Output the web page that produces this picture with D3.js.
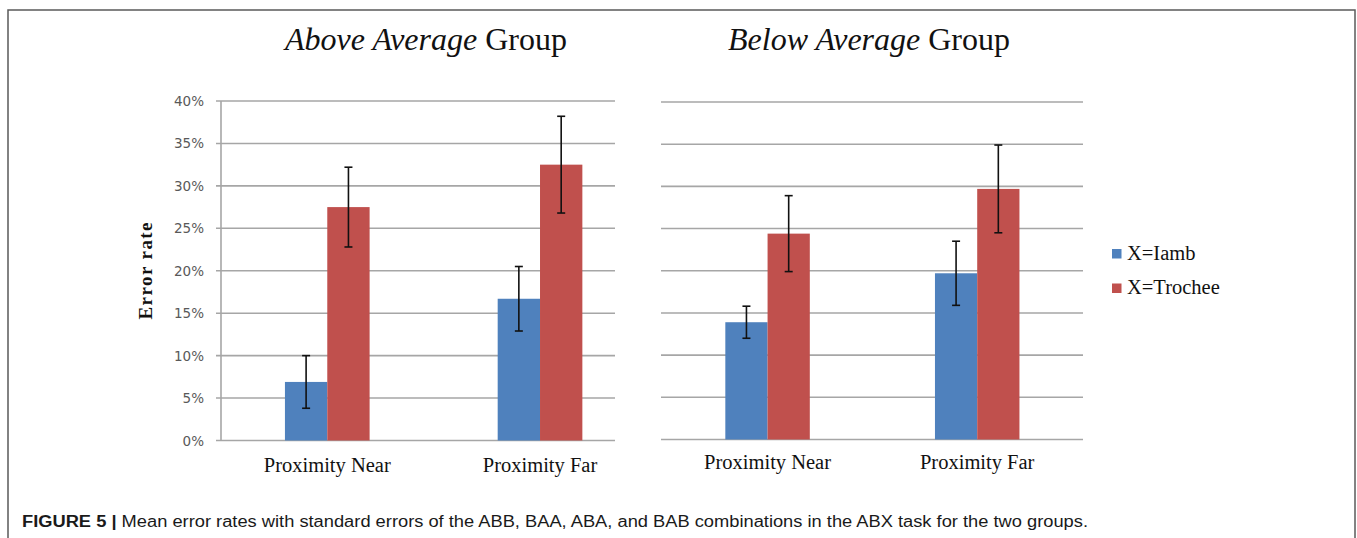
<!DOCTYPE html>
<html>
<head>
<meta charset="utf-8">
<script src="https://cdn.jsdelivr.net/npm/d3@7"></script>
<style>
	body { margin: 0; background: #fff; }
	svg { display: block; }
</style>
</head>
<body>
<svg></svg>
<script>
// data........................................................................

var categories = ["Proximity Near", "Proximity Far"],
	series = ["X=Iamb", "X=Trochee"],
	yTicks = [0, 5, 10, 15, 20, 25, 30, 35, 40];

var aboveIamb = [6.9, 16.7],
	aboveIambErr = [3.1, 3.8],
	aboveTrochee = [27.5, 32.5],
	aboveTrocheeErr = [4.7, 5.7];

var belowIamb = [13.9, 19.7],
	belowIambErr = [1.9, 3.8],
	belowTrochee = [24.4, 29.7],
	belowTrocheeErr = [4.5, 5.2];

var colors = ["#4f81bd", "#c0504d"];

// setup.......................................................................

var width = 1357, height = 538,
	svg = d3.select("svg").attr("width", width).attr("height", height),
	serif = "'Liberation Serif', 'Times New Roman', serif";

// frame (bottom edge runs off the picture)
svg.append("rect")
	.attr("x", 8).attr("y", 10)
	.attr("width", 1347).attr("height", 560)
	.style("fill", "none")
	.style("stroke", "#5a5a5a")
	.style("stroke-width", 1.5);

var panels = [
	{ italic: "Above Average", rest: " Group", cx: 426, left: 221, right: 615,
	  top: 101, bottom: 440.5, pi: 0.602, po: 0.227, align: 0.662, axis: true, labelY: 472,
	  values: [aboveIamb, aboveTrochee], errs: [aboveIambErr, aboveTrocheeErr] },
	{ italic: "Below Average", rest: " Group", cx: 869, left: 661, right: 1083,
	  top: 102, bottom: 439.5, pi: 0.597, po: 0.305, align: 0.503, axis: false, labelY: 469,
	  values: [belowIamb, belowTrochee], errs: [belowIambErr, belowTrocheeErr] }
];

panels.forEach(drawPanel);

// y axis title
svg.append("text")
	.attr("transform", "translate(152,271) rotate(-90)")
	.attr("text-anchor", "middle")
	.attr("textLength", 97)
	.attr("lengthAdjust", "spacing")
	.style("font-family", serif)
	.style("font-weight", "bold")
	.style("font-size", "19px")
	.style("fill", "#111")
	.text("Error rate");

// legend
var legend = svg.append("g").selectAll("g")
	.data(series)
	.enter().append("g")
		.attr("transform", function(d, i) { return "translate(1112," + (249 + i * 34.5) + ")"; });
legend.append("rect")
	.attr("width", 9.5).attr("height", 9.5)
	.style("fill", function(d, i) { return colors[i]; });
legend.append("text")
	.attr("x", 15).attr("y", 10.5)
	.style("font-family", serif)
	.style("font-size", "20.5px")
	.style("fill", "#111")
	.text(function(d) { return d; });

// caption
var caption = svg.append("text")
	.attr("x", 22).attr("y", 527)
	.attr("textLength", 1066)
	.attr("lengthAdjust", "spacingAndGlyphs")
	.style("font-family", "'Liberation Sans', Arial, sans-serif")
	.style("font-size", "16px")
	.style("fill", "#1a1a1a");
caption.append("tspan").style("font-weight", "bold").text("FIGURE 5 |");
caption.append("tspan").text(" Mean error rates with standard errors of the ABB, BAA, ABA, and BAB combinations in the ABX task for the two groups.");

// draw functions..............................................................

function drawPanel(p){
	var g = svg.append("g"),
		y = d3.scaleLinear().domain([0, 40]).range([p.bottom, p.top]),
		x = d3.scaleBand().domain(categories).range([p.left, p.right])
			.paddingInner(p.pi).paddingOuter(p.po).align(p.align),
		xs = d3.scaleBand().domain(d3.range(series.length)).range([0, x.bandwidth()]);

	// title
	var title = g.append("text")
		.attr("x", p.cx).attr("y", 50)
		.attr("text-anchor", "middle")
		.style("font-family", serif)
		.style("font-size", "32px")
		.style("fill", "#111");
	title.append("tspan").style("font-style", "italic").text(p.italic);
	title.append("tspan").text(p.rest);

	// gridlines
	g.append("g").selectAll("line")
		.data(yTicks)
		.enter().append("line")
			.attr("x1", p.axis ? p.left - 5 : p.left)
			.attr("x2", p.right)
			.attr("y1", function(d) { return y(d); })
			.attr("y2", function(d) { return y(d); })
			.style("stroke", "#a6a6a6")
			.style("stroke-width", 1.6);

	if(p.axis){
		g.append("line")
			.attr("x1", p.left).attr("x2", p.left)
			.attr("y1", y(40)).attr("y2", y(0))
			.style("stroke", "#a6a6a6")
			.style("stroke-width", 1.6);

		g.append("g").selectAll("text")
			.data(yTicks)
			.enter().append("text")
				.attr("x", p.left - 17)
				.attr("y", function(d) { return y(d) + 5; })
				.attr("text-anchor", "end")
				.style("font-family", "'DejaVu Sans', Verdana, sans-serif")
				.style("font-size", "13.5px")
				.style("fill", "#595959")
				.text(function(d) { return d + "%"; });
	}

	// bars and error bars
	var groups = g.append("g").selectAll("g")
		.data(categories)
		.enter().append("g")
			.attr("transform", function(d) { return "translate(" + x(d) + ",0)"; });

	var cells = groups.selectAll("g")
		.data(function(d, ci) {
			return series.map(function(s, si) {
				return { si: si, v: p.values[si][ci], e: p.errs[si][ci] };
			});
		})
		.enter().append("g");

	cells.append("rect")
		.attr("x", function(d) { return xs(d.si); })
		.attr("y", function(d) { return y(d.v); })
		.attr("width", xs.bandwidth())
		.attr("height", function(d) { return y(0) - y(d.v); })
		.style("fill", function(d) { return colors[d.si]; });

	var cap = 4;
	cells.each(function(d){
		var c = xs(d.si) + xs.bandwidth() / 2,
			sel = d3.select(this).append("g")
				.style("stroke", "#111")
				.style("stroke-width", 1.6);
		sel.append("line")
			.attr("x1", c).attr("x2", c)
			.attr("y1", y(d.v + d.e)).attr("y2", y(d.v - d.e));
		sel.append("line")
			.attr("x1", c - cap).attr("x2", c + cap)
			.attr("y1", y(d.v + d.e)).attr("y2", y(d.v + d.e));
		sel.append("line")
			.attr("x1", c - cap).attr("x2", c + cap)
			.attr("y1", y(d.v - d.e)).attr("y2", y(d.v - d.e));
	});

	// category labels
	g.append("g").selectAll("text")
		.data(categories)
		.enter().append("text")
			.attr("x", function(d) { return x(d) + x.bandwidth() / 2; })
			.attr("y", p.labelY)
			.attr("text-anchor", "middle")
			.style("font-family", serif)
			.style("font-size", "20.5px")
			.style("fill", "#111")
			.text(function(d) { return d; });
}
</script>
</body>
</html>
